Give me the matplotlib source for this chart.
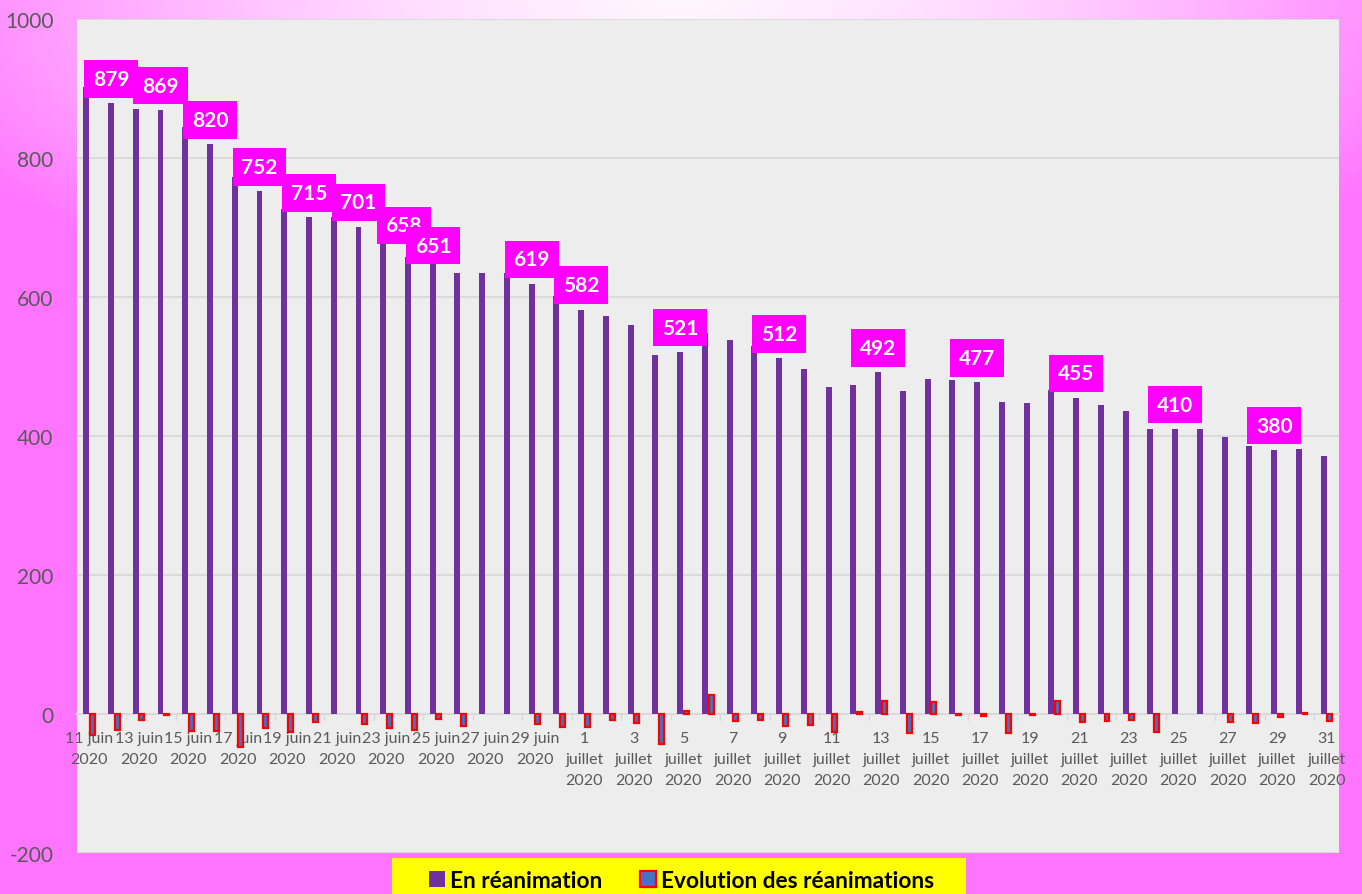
import matplotlib
matplotlib.use('Agg')
import matplotlib.pyplot as plt
from matplotlib.patches import Rectangle, Patch
import numpy as np

# patients en réanimation, du 11 juin au 31 juillet 2020
reanimation = [902, 879, 870, 869, 845, 820, 772, 752, 726, 715,
               715, 701, 681, 658, 651, 634, 634, 634, 619, 601,
               582, 573, 560, 517, 521, 548, 538, 529, 512, 496,
               470, 473, 492, 465, 482, 480, 477, 449, 447, 466,
               455, 445, 436, 410, 410, 410, 398, 385, 380, 381, 371]

# evolution d'un jour sur l'autre
evolution = [-30, -23, -9, -1, -24, -25, -48, -20, -26, -11,
             0, -14, -20, -23, -7, -17, 0, 0, -15, -18,
             -19, -9, -13, -43, 4, 27, -10, -9, -17, -16,
             -26, 3, 19, -27, 17, -2, -3, -28, -2, 19,
             -11, -10, -9, -26, 0, 0, -12, -13, -5, 1, -10]

tick_labels = ['11 juin\n2020', '13 juin\n2020', '15 juin\n2020', '17 juin\n2020',
               '19 juin\n2020', '21 juin\n2020', '23 juin\n2020', '25 juin\n2020',
               '27 juin\n2020', '29 juin\n2020',
               '1\njuillet\n2020', '3\njuillet\n2020', '5\njuillet\n2020',
               '7\njuillet\n2020', '9\njuillet\n2020', '11\njuillet\n2020',
               '13\njuillet\n2020', '15\njuillet\n2020', '17\njuillet\n2020',
               '19\njuillet\n2020', '21\njuillet\n2020', '23\njuillet\n2020',
               '25\njuillet\n2020', '27\njuillet\n2020', '29\njuillet\n2020',
               '31\njuillet\n2020']

# jours qui portent une etiquette
labelled = [1, 3, 5, 7, 9, 11, 13, 14, 18, 20, 24, 28, 32, 36, 40, 44, 48]

series_names = ['En réanimation', 'Evolution des réanimations']

PURPLE = '#7030A0'
BLUE = '#4472C4'
GREY_TXT = '#595959'
GRID = '#D9D9D9'

plt.rcParams['font.family'] = ['Lato', 'DejaVu Sans']
plt.rcParams['axes.unicode_minus'] = False

fig = plt.figure(figsize=(13.62, 8.95), dpi=100)

# pink gradient background
bg = fig.add_axes([0, 0, 1, 1], zorder=-10)
gx, gy = np.meshgrid(np.linspace(0, 1, 400), np.linspace(1, 0, 300))
t = np.clip(np.sqrt(((gx - 0.5) / 0.6) ** 2 + ((1 - gy) / 0.38) ** 2), 0, 1) ** 1.5
light = np.array([1.0, 0.96, 1.0])
dark = np.array([1.0, 0.46, 1.0])
img = light[None, None, :] * (1 - t[..., None]) + dark[None, None, :] * t[..., None]
bg.imshow(img, aspect='auto', extent=[0, 1, 0, 1])
bg.set_axis_off()

ax = fig.add_axes([77 / 1362, 41 / 895, 1262 / 1362, 834 / 895])
ax.set_facecolor('#EDEDED')

x = np.arange(len(reanimation))
w = 0.24
ax.bar(x - 0.125, reanimation, width=w, color=PURPLE, linewidth=0, zorder=3,
       label=series_names[0])
ax.bar(x + 0.125, evolution, width=0.2, color=BLUE, edgecolor='#FF0000',
       linewidth=[0 if v == 0 else 1.6 for v in evolution], zorder=3,
       label=series_names[1])

# etiquettes de donnees
for i in labelled:
    v = reanimation[i]
    dx, dy = 0, 17.5
    arrow = None
    if v == 658:
        dx, dy = -3, 22.5
        arrow = dict(arrowstyle='-', color='#A6A6A6', lw=1)
    elif v == 651:
        dx, dy = 0.5, 11.5
    ax.annotate(str(v), xy=(i - 0.125, v), xytext=(dx, dy), textcoords='offset points',
                ha='center', va='center', color='white', fontsize=15, fontweight='bold',
                bbox=dict(boxstyle='square,pad=0.42', fc='#FF00FF', ec='none'),
                arrowprops=arrow, zorder=5)

ax.set_xlim(-0.5, len(reanimation) - 0.5)
ax.set_ylim(-200, 1000)
ax.set_yticks(range(-200, 1001, 200))
ax.set_xticks(x[::2])
ax.set_xticklabels(tick_labels)
ax.set_xticks(np.arange(-0.5, len(reanimation), 2), minor=True)

ax.grid(axis='y', color=GRID, linewidth=1.3)
ax.set_axisbelow(True)
for s in ['left', 'right', 'top']:
    ax.spines[s].set_visible(False)
ax.spines['bottom'].set_position(('data', 0))
ax.spines['bottom'].set_color(GRID)
ax.spines['bottom'].set_linewidth(1.5)
ax.spines['bottom'].set_zorder(2)

ax.tick_params(axis='x', which='major', length=0, pad=12.5, labelsize=11.5, labelcolor=GREY_TXT)
ax.tick_params(axis='x', which='minor', length=4, color=GRID, width=1)
ax.tick_params(axis='y', length=0, pad=17, labelsize=15, labelcolor=GREY_TXT)
for lab in ax.get_xticklabels():
    lab.set_linespacing(1.6)

# legende sur fond jaune
fig.patches.append(Rectangle((392 / 1362, 0), 574 / 1362, 36 / 895,
                             transform=fig.transFigure, fc='#FFFF00', ec='none', zorder=1))
handles = [Patch(fc=PURPLE, ec='none'), Patch(fc=BLUE, ec='#FF0000', lw=1.6)]
leg = fig.legend(handles, series_names, loc='center', bbox_to_anchor=(0.5005, 0.0156),
                 ncol=2, frameon=False, handlelength=0.7, handleheight=0.7,
                 handletextpad=0.2, columnspacing=1.7,
                 prop=dict(family='Lato', weight='bold', size=16.3))

fig.savefig('out.png', dpi=100)
